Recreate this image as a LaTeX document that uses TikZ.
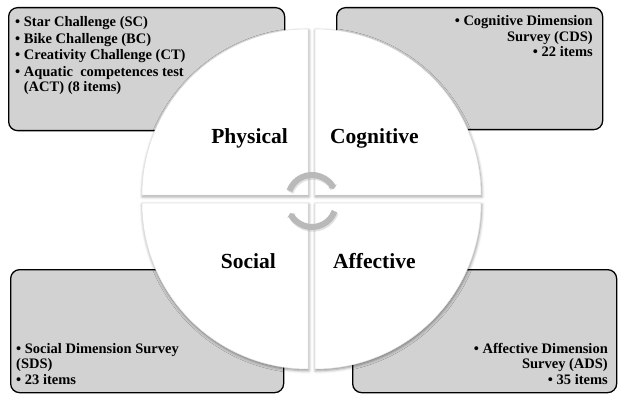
\documentclass[tikz,border=0pt]{standalone}
\usepackage{fontspec}
\setmainfont{Liberation Serif}
\usetikzlibrary{arrows.meta,shadows.blur}

\tikzset{
  infobox/.style={draw=black, line width=1.3pt, fill=gray!35, rounded corners=9pt,
    inner sep=0pt, anchor=north west},
  infotext/.style={inner sep=0pt, font=\bfseries\fontsize{14.5}{15.5}\selectfont},
  quarter/.style={fill=white, draw=gray!22, line width=0.5pt,
    blur shadow={shadow xshift=0.6pt, shadow yshift=-1.6pt,
      shadow blur radius=3pt, shadow opacity=45}},
  dimlabel/.style={inner sep=0pt, font=\bfseries\fontsize{21.5}{24}\selectfont},
  cycarc/.style={line width=6pt, draw=gray!55,
    -{Triangle[length=3pt,width=9pt,fill=gray!55]}},
  cycshade/.style={line width=6.5pt, draw=gray!75, opacity=0.3}
}
\newcommand{\bul}{•\ }

\begin{document}
\begin{tikzpicture}[x=1pt,y=1pt]
\useasboundingbox (0,0) rectangle (620,394);

% instrument boxes behind the wheel
\node[infobox, minimum width=276pt, minimum height=123pt] (physbox) at (8,387) {};
\node[infobox, minimum width=266pt, minimum height=122pt] (cogbox) at (336,387) {};
\node[infobox, minimum width=273pt, minimum height=123pt] (socbox) at (10,125) {};
\node[infobox, minimum width=264pt, minimum height=123pt] (affbox) at (352,125) {};

% box contents (anchored on the baseline of the last line)
\node[infotext, align=left, anchor=base west] (phystext) at (15,302)
  {\bul Star Challenge (SC)\\[1.2pt]
   \bul Bike Challenge (BC)\\[1.2pt]
   \bul Creativity Challenge (CT)\\[1.2pt]
   \bul Aquatic\ \ competences test\\
   \hphantom{\bul}(ACT) (8 items)};
\node[infotext, align=right, anchor=base east] (cogtext) at (593,337)
  {\bul Cognitive Dimension\\
   Survey (CDS)\\
   \bul 22 items};
\node[infotext, align=left, anchor=base west] (soctext) at (16,10)
  {\bul Social Dimension Survey\\
   (SDS)\\
   \bul 23 items};
\node[infotext, align=right, anchor=base east] (afftext) at (608,10)
  {\bul Affective Dimension\\
   Survey (ADS)\\
   \bul 35 items};

% the four quarters of the wheel
\path[quarter] (308,199) -- ++(-166,0) arc[start angle=180, end angle=90, radius=166] -- cycle;
\path[quarter] (315,199) -- ++(0,166) arc[start angle=90, end angle=0, radius=166] -- cycle;
\path[quarter] (308,191) -- ++(-166,0) arc[start angle=180, end angle=270, radius=166] -- cycle;
\path[quarter] (315,191) -- ++(166,0) arc[start angle=0, end angle=-90, radius=166] -- cycle;

% dimension names
\node[dimlabel, anchor=base east] (physical) at (288,250) {Physical};
\node[dimlabel, anchor=base west] (cognitive) at (330,250) {Cognitive};
\node[dimlabel, anchor=base east] (social) at (276,126) {Social};
\node[dimlabel, anchor=base west] (affective) at (333,126) {Affective};

% cycle arrows in the centre
\coordinate (cyctop) at (312,195);
\coordinate (cycbot) at (312,191);
\draw[cycshade] ([shift={(160:24)}]cyctop) ++(0.8,-1.5) arc[start angle=160, end angle=30, radius=24];
\draw[cycshade] ([shift={(-20:24)}]cycbot) ++(0.8,-1.5) arc[start angle=-20, end angle=-150, radius=24];
\draw[cycarc] ([shift={(160:24)}]cyctop) arc[start angle=160, end angle=25, radius=24];
\draw[cycarc] ([shift={(-20:24)}]cycbot) arc[start angle=-20, end angle=-155, radius=24];
\end{tikzpicture}
\end{document}
